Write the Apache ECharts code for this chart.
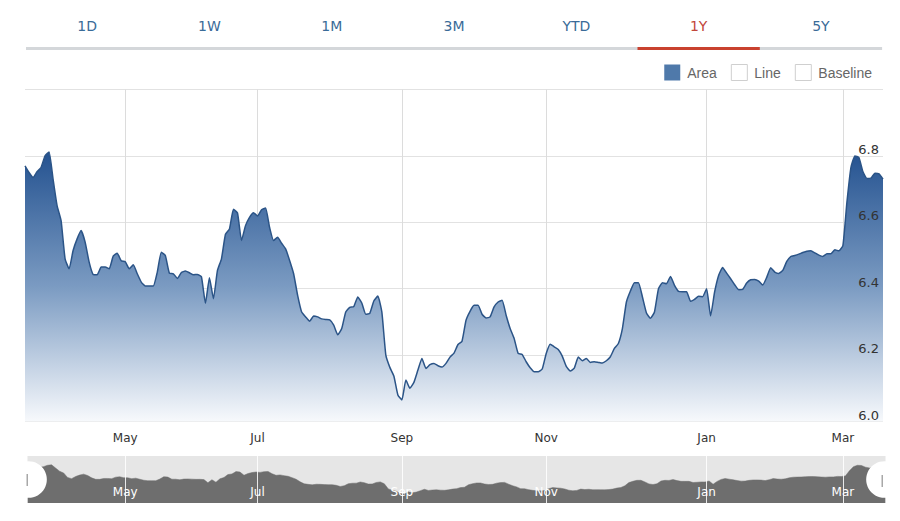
<!DOCTYPE html>
<html>
<head>
<meta charset="utf-8">
<script src="https://cdn.jsdelivr.net/npm/echarts@6/dist/echarts.min.js"></script>
<style>
html,body{margin:0;padding:0;background:#fff;}
#chart{width:900px;height:521px;}
</style>
</head>
<body>
<div id="chart"></div>
<script>
const values = [
  6.77, 6.75, 6.735, 6.752, 6.765, 6.80, 6.812, 6.73, 6.65, 6.605,
  6.49, 6.46, 6.515, 6.55, 6.575, 6.54, 6.48, 6.443, 6.442, 6.465,
  6.465, 6.46, 6.498, 6.507, 6.484, 6.481, 6.46, 6.472, 6.445, 6.42,
  6.408, 6.408, 6.408, 6.45, 6.51, 6.50, 6.447, 6.445, 6.431, 6.449,
  6.453, 6.448, 6.442, 6.443, 6.436, 6.356, 6.433, 6.37, 6.455, 6.49,
  6.564, 6.58, 6.639, 6.628, 6.545, 6.59, 6.615, 6.629, 6.619, 6.638,
  6.643, 6.585, 6.545, 6.555, 6.537, 6.52, 6.485, 6.445, 6.38, 6.33,
  6.315, 6.302, 6.318, 6.315, 6.309, 6.307, 6.306, 6.29, 6.261, 6.28,
  6.33, 6.344, 6.346, 6.375, 6.357, 6.323, 6.326, 6.363, 6.378, 6.33,
  6.20, 6.163, 6.137, 6.08, 6.065, 6.125, 6.10, 6.118, 6.155, 6.19,
  6.16, 6.171, 6.175, 6.168, 6.164, 6.175, 6.194, 6.206, 6.232, 6.242,
  6.305, 6.332, 6.35, 6.35, 6.323, 6.312, 6.315, 6.345, 6.36, 6.365,
  6.32, 6.28, 6.25, 6.205, 6.202, 6.18, 6.162, 6.15, 6.15, 6.158,
  6.205, 6.233, 6.225, 6.217, 6.197, 6.166, 6.152, 6.161, 6.194, 6.183,
  6.19, 6.178, 6.18, 6.178, 6.176, 6.183, 6.195, 6.22, 6.235, 6.28,
  6.36, 6.393, 6.418, 6.418, 6.375, 6.327, 6.311, 6.33, 6.40, 6.418,
  6.415, 6.437, 6.41, 6.392, 6.391, 6.391, 6.362, 6.368, 6.377, 6.376,
  6.40, 6.318, 6.39, 6.44, 6.464, 6.447, 6.43, 6.412, 6.397, 6.398,
  6.417, 6.427, 6.428, 6.423, 6.411, 6.434, 6.463, 6.45, 6.446, 6.455,
  6.482, 6.497, 6.5, 6.504, 6.509, 6.513, 6.514, 6.508, 6.501, 6.497,
  6.505, 6.505, 6.517, 6.514, 6.53, 6.66, 6.765, 6.8, 6.795, 6.752,
  6.732, 6.733, 6.748, 6.746, 6.73
];
// month tick positions (index of the sample where each month starts) and labels
const tickIndex  = [25, 58, 94, 130, 170, 204];
const tickLabels = ['May', 'Jul', 'Sep', 'Nov', 'Jan', 'Mar'];
// value axis
const yMin = 6.0, yMax = 7.0, yStep = 0.2;
// range tabs and legend entries
const tabs = ['1D', '1W', '1M', '3M', 'YTD', '1Y', '5Y'];
const activeTab = '1Y';
const legendNames = ['Area', 'Line', 'Baseline'];

// ---- build options ----
const categories = values.map((v, i) => String(i));
const labelAt = {};
tickIndex.forEach((idx, j) => { labelAt[idx] = tickLabels[j]; });
const isTick = (i) => Object.prototype.hasOwnProperty.call(labelAt, i);
const fmtTick = (v, i) => labelAt[i] || '';

const chart = echarts.init(document.getElementById('chart'), null, {renderer: 'svg'});

const tabLeft = 26, tabW = 122.3;
const graphics = [];
graphics.push({type: 'rect', shape: {x: tabLeft, y: 47, width: tabW * tabs.length, height: 3}, style: {fill: '#d4d7da'}, z: 100});
tabs.forEach((t, i) => {
  const active = t === activeTab;
  graphics.push({
    type: 'text', z: 101,
    style: {
      text: t, x: tabLeft + tabW * i + tabW / 2, y: 26,
      textAlign: 'center', textVerticalAlign: 'middle',
      fontSize: 14, fontFamily: 'DejaVu Sans',
      fill: active ? '#c2473b' : '#3a6b98'
    }
  });
  if (active) {
    graphics.push({type: 'rect', shape: {x: tabLeft + tabW * i, y: 47, width: tabW, height: 3}, style: {fill: '#c9412f'}, z: 102});
  }
});
// small grips on the navigator handles
graphics.push({type: 'rect', shape: {x: 26.5, y: 474, width: 1.5, height: 12}, style: {fill: '#a8a8a8'}, z: 200});
graphics.push({type: 'rect', shape: {x: 881.5, y: 475, width: 1.5, height: 12}, style: {fill: '#a8a8a8'}, z: 200});

const shadowStyle = {
  lineStyle: {color: '#6e6e6e', width: 0.5, opacity: 1},
  areaStyle: {color: '#6e6e6e', opacity: 1}
};

const option = {
  animation: false,
  backgroundColor: '#fff',
  graphic: graphics,
  legend: {
    data: [
      {name: legendNames[0], itemStyle: {color: '#4f79aa', borderWidth: 0}},
      {name: legendNames[1], itemStyle: {color: '#fff', borderColor: '#cfcfcf', borderWidth: 1}},
      {name: legendNames[2], itemStyle: {color: '#fff', borderColor: '#cfcfcf', borderWidth: 1}}
    ],
    right: 23, top: 59,
    icon: 'rect', itemWidth: 16, itemHeight: 16, itemGap: 14,
    selectedMode: false,
    textStyle: {color: '#666', fontSize: 14, fontFamily: 'Liberation Sans', padding: [0, 0, 0, 2]}
  },
  grid: [
    {left: 25, right: 17, top: 89.5, bottom: 99.5},
    {left: 25, right: 17, top: 456, height: 47}
  ],
  xAxis: [
    {
      type: 'category', gridIndex: 0, data: categories, boundaryGap: false,
      axisLine: {show: false}, axisTick: {show: false},
      axisLabel: {interval: isTick, formatter: fmtTick, color: '#333', fontSize: 12, fontFamily: 'DejaVu Sans', margin: 10},
      splitLine: {show: true, interval: isTick, lineStyle: {color: '#dcdcdc', width: 1}}
    },
    {
      type: 'category', gridIndex: 1, data: categories, boundaryGap: false, z: 10,
      axisLine: {show: false}, axisTick: {show: false},
      axisLabel: {inside: true, interval: isTick, formatter: fmtTick, color: '#fff', fontSize: 12, fontFamily: 'DejaVu Sans', margin: 5},
      splitLine: {show: true, interval: isTick, lineStyle: {color: 'rgba(255,255,255,0.85)', width: 1}}
    }
  ],
  yAxis: [
    {
      type: 'value', gridIndex: 0, min: yMin, max: yMax, interval: yStep, position: 'right',
      axisLine: {show: false}, axisTick: {show: false}, axisLabel: {show: false},
      splitLine: {show: true, lineStyle: {color: '#e2e2e2', width: 1}}
    },
    {
      type: 'value', gridIndex: 0, min: yMin, max: yMax, interval: yStep, position: 'right', z: 10,
      axisLine: {show: false}, axisTick: {show: false}, splitLine: {show: false},
      axisLabel: {inside: true, margin: 4, verticalAlign: 'bottom', showMaxLabel: false,
        color: '#333', fontSize: 13, fontFamily: 'DejaVu Sans',
        formatter: (v) => v.toFixed(1)}
    },
    {type: 'value', gridIndex: 1, show: false}
  ],
  dataZoom: [{
    type: 'slider', xAxisIndex: 0, start: 0, end: 100,
    left: 25, right: 17, top: 456, height: 47,
    backgroundColor: '#e6e6e6', borderColor: 'transparent', borderRadius: 0,
    fillerColor: 'rgba(0,0,0,0)',
    showDetail: false, brushSelect: false, moveHandleSize: 0,
    handleIcon: 'circle', handleSize: '78%',
    handleStyle: {color: '#fff', borderColor: '#fff', borderWidth: 0, shadowBlur: 0},
    emphasis: {handleStyle: {color: '#fff', borderColor: '#fff', shadowBlur: 0}},
    dataBackground: shadowStyle,
    selectedDataBackground: shadowStyle
  }],
  series: [
    {
      name: legendNames[0], type: 'line', xAxisIndex: 0, yAxisIndex: 0,
      data: values, symbol: 'none', showSymbol: false, smooth: 0.15,
      lineStyle: {color: '#2b5487', width: 1.5},
      areaStyle: {
        opacity: 1,
        color: {type: 'linear', x: 0, y: 0, x2: 0, y2: 1, colorStops: [
          {offset: 0, color: '#245290'},
          {offset: 0.5, color: '#7b9bc2'},
          {offset: 1, color: '#f7f9fc'}
        ]}
      },
      z: 2
    },
    {name: legendNames[1], type: 'line', xAxisIndex: 0, yAxisIndex: 0, data: []},
    {name: legendNames[2], type: 'line', xAxisIndex: 0, yAxisIndex: 0, data: []}
  ]
};
chart.setOption(option);
</script>
</body>
</html>
